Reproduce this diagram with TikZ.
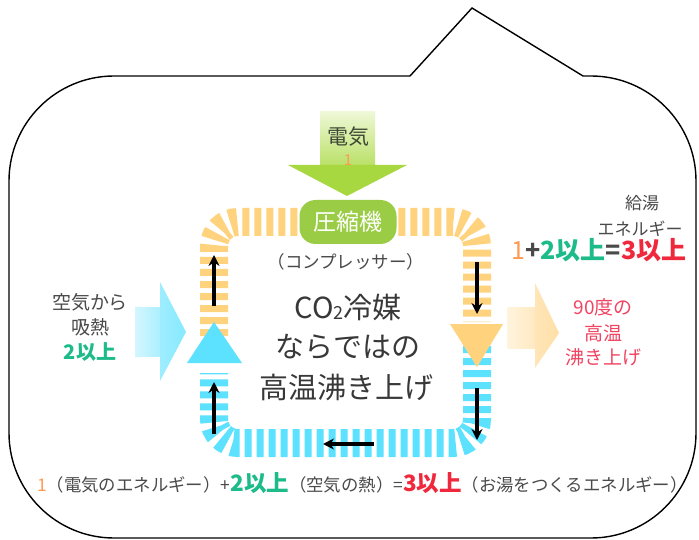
\documentclass[tikz,border=0pt]{standalone}
\usepackage{fontspec}
\setmainfont{Noto Sans CJK JP}
\usetikzlibrary{arrows.meta}
\definecolor{txtgray}{HTML}{4A4A4A}
\definecolor{bandorange}{HTML}{FFD27E}
\definecolor{bandcyan}{HTML}{5CE1FF}
\definecolor{boxgreen}{HTML}{9ACD45}
\definecolor{arrgreen}{HTML}{A8D840}
\definecolor{arrgreenlight}{HTML}{EEF8D6}
\definecolor{txtgreen}{HTML}{1DBB8A}
\definecolor{txtred}{HTML}{F0283C}
\definecolor{txtpink}{HTML}{F04462}
\definecolor{txtorange}{HTML}{FF9A55}
\definecolor{cyanpale}{HTML}{D4F6FF}
\definecolor{cyanhead}{HTML}{86E9FF}
\definecolor{orangepale}{HTML}{FFF4DE}
\definecolor{orangehead}{HTML}{FFDFA6}
\definecolor{elecgray}{HTML}{3E4A36}
\newcommand{\fs}[1]{\fontsize{#1}{#1}\selectfont}
\begin{document}
\begin{tikzpicture}[x=1pt,y=-1pt,
  lbl/.style={inner sep=0pt,outer sep=0pt,text=txtgray,align=center},
  band/.style={line width=28pt,dash pattern=on 7pt off 5pt,rounded corners=24pt},
  flow/.style={line width=3.6pt,draw=black,-{Stealth[length=11pt,width=11pt]}},
  comp/.style={fill=boxgreen,rounded corners=16pt,minimum width=97pt,minimum height=44pt,inner sep=0pt,text=white}
]
\useasboundingbox (0,0) rectangle (699,540);
\fill[white] (0,0) rectangle (699,540);
% callout outline
\draw[line width=1.4pt,line join=miter]
  (9,181) .. controls (9,123) and (56,76) .. (114,76)
  -- (410,76) -- (472,8) -- (583,76) -- (591,76)
  .. controls (649,76) and (696,123) .. (696,181)
  -- (696,433)
  .. controls (696,491) and (649,538) .. (591,538)
  -- (114,538)
  .. controls (56,538) and (9,491) .. (9,433) -- cycle;

% refrigerant loop
\draw[band,draw=bandcyan] (477,346) -- (477,443) -- (214,443) -- (214,373);
\draw[band,draw=bandorange] (214,336) -- (214,222) -- (477,222) -- (477,322);
\fill[bandcyan] (214,322) -- (242,363) -- (187,363) -- cycle;
\fill[bandorange] (450,324) -- (503,324) -- (477,367) -- cycle;

% green input arrow (electricity)
\shade[top color=arrgreenlight,bottom color=arrgreen!80] (320,112) rectangle (375,166);
\fill[arrgreen] (288,165) -- (407,165) -- (347,196) -- cycle;
\node[lbl,text=elecgray] (elec) at (348,137) {\fs{21}電気};
\node[lbl,text=txtorange] (elecone) at (348,160) {\fs{15}1};

% compressor
\node[comp] (comp) at (348,222) {\fs{23}圧縮機};
\node[lbl] (compr) at (346,262) {\fs{17.5}（コンプレッサー）};

% central text
\node[lbl,text=black!78] (co2) at (348,307) {\fs{29}CO\raisebox{-1pt}{\fs{18}2}冷媒};
\node[lbl,text=black!78] (narade) at (348,347) {\fs{29}ならではの};
\node[lbl,text=black!78] (koon) at (346,387) {\fs{29}高温沸き上げ};

% flow arrows
\coordinate (la1) at (214,306); \coordinate (la2) at (214,255);
\coordinate (lb1) at (214,434); \coordinate (lb2) at (214,382);
\coordinate (ra1) at (477,262); \coordinate (ra2) at (477,314);
\coordinate (rb1) at (477,388); \coordinate (rb2) at (477,440);
\coordinate (ba1) at (374,444); \coordinate (ba2) at (323,444);
\draw[flow] (la1) -- (la2);
\draw[flow] (lb1) -- (lb2);
\draw[flow] (ra1) -- (ra2);
\draw[flow] (rb1) -- (rb2);
\draw[flow] (ba1) -- (ba2);

% air heat input arrow
\shade[left color=cyanpale,right color=cyanhead!70] (135,307) rectangle (161,356);
\shade[left color=cyanhead!80,right color=cyanhead] (160,282) -- (186,332) -- (160,381) -- cycle;
\node[lbl] (air1) at (90,302) {\fs{19}空気から};
\node[lbl] (air2) at (90,327) {\fs{19}吸熱};
\node[lbl,text=txtgreen] (air3) at (90,352) {\fs{20}\bfseries 2以上};

% hot water output arrow
\shade[left color=orangepale,right color=orangehead!70] (507,307) rectangle (536,348);
\shade[left color=orangehead!80,right color=orangehead] (535,283) -- (559,333) -- (535,368) -- cycle;
\node[lbl] (kyuto) at (642,203) {\fs{17}給湯};
\node[lbl] (ene) at (640,229) {\fs{17}エネルギー};
\node[lbl] (eq) at (599,250) {\fs{25}\textcolor{txtorange}{1}\bfseries\textcolor{txtgray}{+}\textcolor{txtgreen}{2以上}\textcolor{txtgray}{=}\textcolor{txtred}{3以上}};
\node[lbl,text=txtpink] (hot1) at (603,307) {\fs{19}90度の};
\node[lbl,text=txtpink] (hot2) at (603,333) {\fs{19}高温};
\node[lbl,text=txtpink] (hot3) at (603,357) {\fs{19}沸き上げ};

% bottom equation
\node[lbl,anchor=west] (bottom) at (37,483) {\fs{17.4}\textcolor{txtorange}{1}（電気のエネルギー）+\textcolor{txtgreen}{\fs{22.5}\bfseries 2以上}（空気の熱）=\textcolor{txtred}{\fs{22.5}\bfseries 3以上}（お湯をつくるエネルギー）};
\end{tikzpicture}
\end{document}
